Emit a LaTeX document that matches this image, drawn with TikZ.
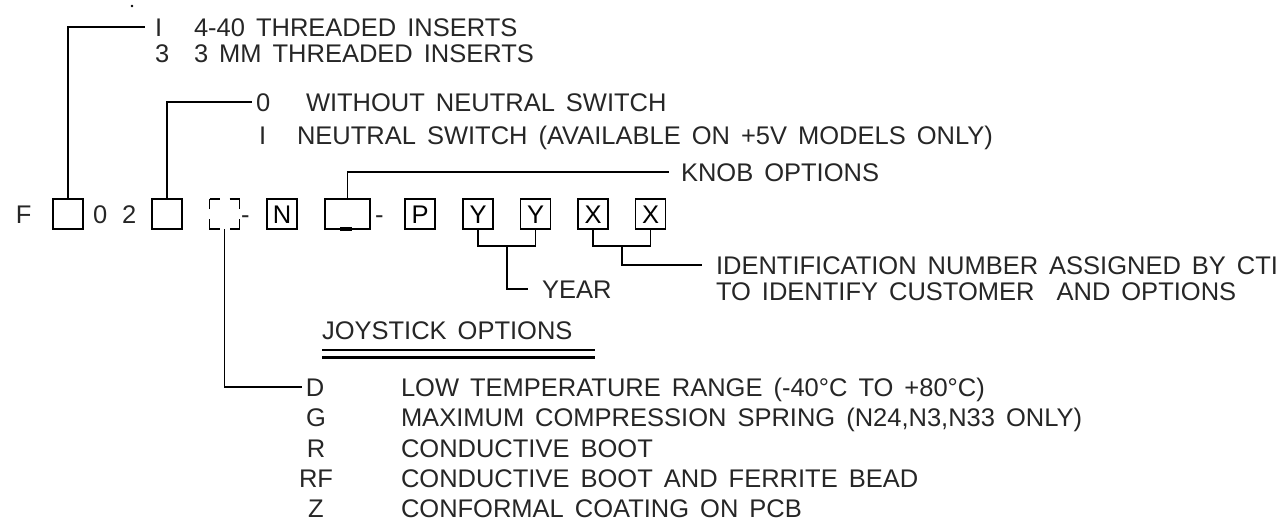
\documentclass[tikz,border=0pt]{standalone}
\usepackage{fontspec}
\setmainfont{Liberation Sans}
\usetikzlibrary{calc}
\begin{document}
\begin{tikzpicture}[x=1pt,y=-1pt,line width=1.8pt,
  txt/.style={font=\fontsize{25.5}{30}\selectfont, text=black!85, execute at begin node={\spaceskip=11pt\relax}, inner sep=0pt, outer sep=0pt, text height=18.3pt, text depth=0pt, anchor=west},
  code/.style={txt, anchor=center},
  box/.style={draw, line width=1.8pt, minimum width=30pt, minimum height=30pt, inner sep=0pt, outer sep=0pt, font=\fontsize{25.5}{30}\selectfont, text height=18.3pt, text depth=0pt},
  ghost/.style={minimum width=30pt, minimum height=30pt, inner sep=0pt, outer sep=0pt},
  lead/.style={line width=1.8pt}]
\useasboundingbox (0,0) rectangle (1282,525);
\fill (132,6) circle (1.3pt);
% part number row
\node[txt] (f) at (16,214) {F};
\node[box] (b1) at (68,214) {};
\node[txt] (t0) at (93,214) {0};
\node[txt] (t2) at (122,214) {2};
\node[box] (b2) at (167,214) {};
\node[ghost] (b3) at (224.5,214) {};
\draw[dash pattern=on 20pt off 10pt, dash phase=10pt] (b3.north west) -- (b3.north east) -- (b3.south east) -- (b3.south west) -- cycle;
\node[txt] (h1) at (241,214) {-};
\node[box] (bn) at (282,214) {N};
\node[box, minimum width=45pt] (bk) at (347.5,214) {};
\draw[line width=3.5pt] ([xshift=-7.5pt]bk.south) -- ([xshift=4.5pt]bk.south);
\node[txt] (h2) at (375,214) {-};
\node[box] (bp) at (420,214) {P};
\node[box] (y1) at (478,214) {Y};
\node[box] (y2) at (535.5,214) {Y};
\node[box] (x1) at (593,214) {X};
\node[box] (x2) at (650.5,214) {X};
% inserts
\node[txt] (c1) at (155,27) {I};
\node[txt] (d1) at (194,27) {4-40 THREADED INSERTS};
\node[txt] (c2) at (155,53) {3};
\node[txt] (d2) at (194,53) {3 MM THREADED INSERTS};
\draw[lead] (b1.north) |- ([xshift=-10pt]c1.west);
% neutral switch
\node[txt] (c3) at (256,102) {0};
\node[txt] (d3) at (306,102) {WITHOUT NEUTRAL SWITCH};
\node[txt] (c4) at (259,135) {I};
\node[txt] (d4) at (297,135) {NEUTRAL SWITCH (AVAILABLE ON +5V MODELS ONLY)};
\draw[lead] (b2.north) |- ([xshift=-4pt]c3.west);
% knob
\node[txt] (k) at (681,172) {KNOB OPTIONS};
\draw[lead] (bk.north) |- ([xshift=-12pt]k.west);
% year
\node[txt] (yr) at (542,289) {YEAR};
\draw[lead] (y1.south) -- ++(0,17) -| (y2.south);
\coordinate (ym) at ($(y1.south)!0.5!(y2.south)+(0,17)$);
\draw[lead] (ym) |- ([xshift=-14pt]yr.west);
% identification
\node[txt] (id1) at (716,265) {IDENTIFICATION NUMBER ASSIGNED BY CTI};
\node[txt] (id2) at (716,291) {TO IDENTIFY CUSTOMER\ \ AND OPTIONS};
\draw[lead] (x1.south) -- ++(0,17) -| (x2.south);
\coordinate (xm) at ($(x1.south)!0.5!(x2.south)+(0,17)$);
\draw[lead] (xm) |- ([xshift=-14pt]id1.west);
% joystick options
\node[txt] (jo) at (322,330) {JOYSTICK OPTIONS};
\draw[line width=1.5pt] ([yshift=-11pt]jo.south west) -- ++(273,0);
\draw[line width=2.5pt] ([yshift=-18.5pt]jo.south west) -- ++(273,0);
\node[code] (jd) at (315,387) {D};
\node[code] (jg) at (316,417.5) {G};
\node[code] (jr) at (316,448) {R};
\node[code] (jrf) at (316,478) {RF};
\node[code] (jz) at (316,508) {Z};
\node[txt] (ed) at (401,387) {LOW TEMPERATURE RANGE (-40°C TO +80°C)};
\node[txt] (eg) at (401,417.5) {MAXIMUM COMPRESSION SPRING (N24,N3,N33 ONLY)};
\node[txt] (er) at (401,448) {CONDUCTIVE BOOT};
\node[txt] (erf) at (401,478) {CONDUCTIVE BOOT AND FERRITE BEAD};
\node[txt] (ez) at (401,508) {CONFORMAL COATING ON PCB};
\draw[lead] (b3.south) |- ([xshift=-4pt]jd.west);
\end{tikzpicture}
\end{document}
